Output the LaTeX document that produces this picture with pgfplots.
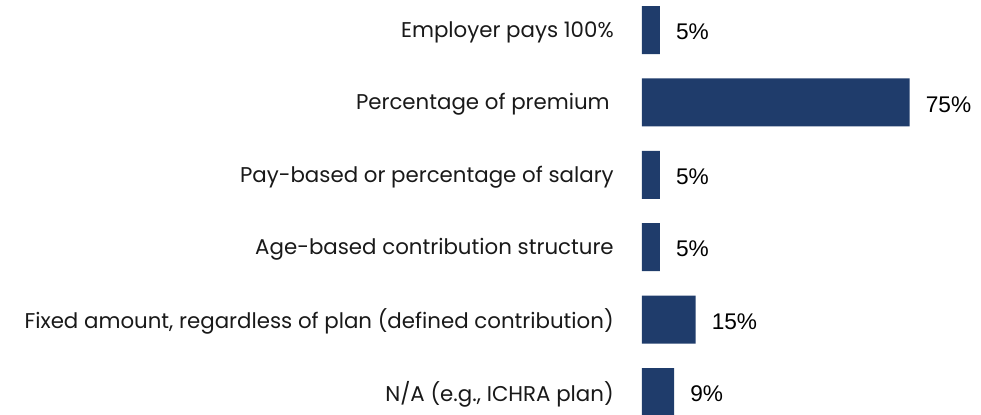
\documentclass[border=0pt]{standalone}
\usepackage{fontspec}
\setmainfont{Poppins}
\newfontfamily\valfont{Liberation Sans}
\usepackage{pgfplots}
\pgfplotsset{compat=1.18}
\definecolor{barblue}{HTML}{1F3C6B}
\begin{document}
\begin{tikzpicture}
\begin{axis}[
  name=ax, at={(0,0)}, anchor=north west,
  scale only axis, width=214.05pt, height=325.8pt,
  xmin=0, xmax=80, ymin=-0.5, ymax=5.5, y dir=reverse,
  xbar, bar width=36pt,
  axis line style={draw=none},
  xtick=\empty,
  ytick={0,1,2,3,4,5},
  yticklabels={Employer pays 100\%, Percentage of premium\kern3pt, Pay-based or percentage of salary, Age-based contribution structure, {Fixed amount, regardless of plan (defined contribution)}, {N/A (e.g., ICHRA plan)}},
  major tick length=0pt,
  yticklabel style={font=\fontsize{16}{19}\selectfont, text=black!90, inner sep=0pt, xshift=-21pt, yshift=-1.5pt},
  clip=false,
  point meta=x,
  nodes near coords={\pgfmathprintnumber[assume math mode=true]{\pgfplotspointmeta}\%},
  nodes near coords style={font=\valfont\fontsize{17}{20}\selectfont, text=black, anchor=west, inner sep=0pt, xshift=12pt, yshift=-1.5pt},
]
\addplot[fill=barblue, draw=none] coordinates {(5,0) (75,1) (5,2) (5,3) (15,4) (9,5)};
\end{axis}
\pgfresetboundingbox
\useasboundingbox (-481.5pt,-4.65pt) rectangle (254.25pt,-315.15pt);
\end{tikzpicture}
\end{document}
